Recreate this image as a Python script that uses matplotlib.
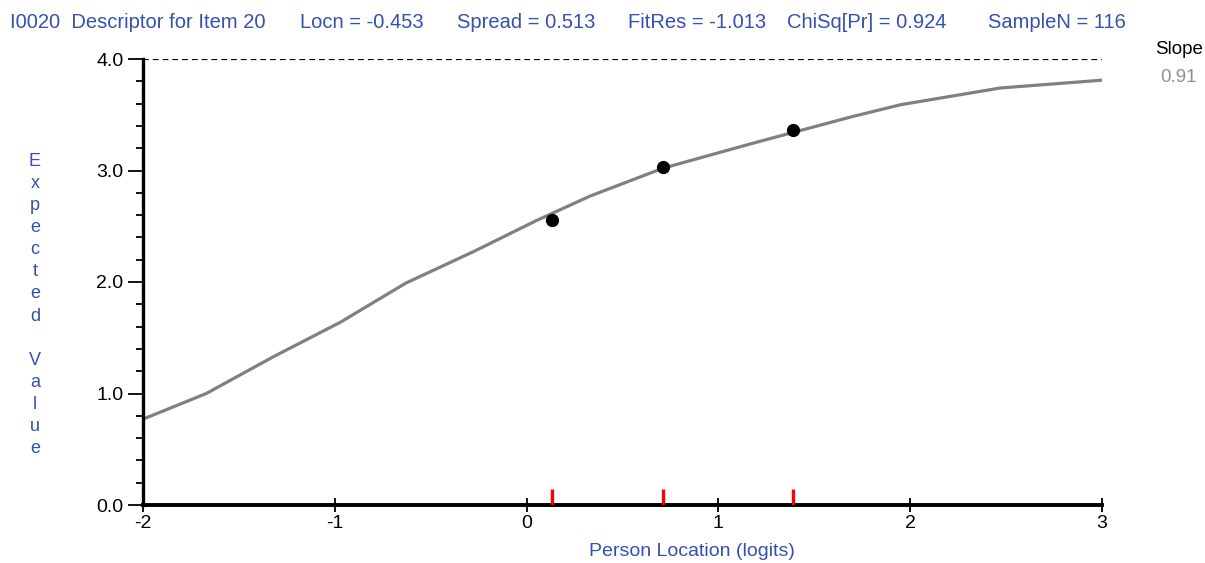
import matplotlib.pyplot as plt
import numpy as np
from matplotlib.ticker import MultipleLocator, FixedLocator

plt.rcParams["font.family"] = ["Liberation Sans Narrow", "Liberation Sans", "DejaVu Sans"]

BLUE = "#3550b0"

# expected value curve
curve_x = [-2.0, -1.67, -1.32, -0.97, -0.63, -0.28, 0.05, 0.33, 0.71, 1.17, 1.43, 1.69, 1.95, 2.47, 3.0]
curve_y = [0.77, 1.00, 1.33, 1.64, 1.99, 2.27, 2.55, 2.77, 3.02, 3.24, 3.36, 3.48, 3.59, 3.74, 3.81]

# observed class means
obs_x = [0.13, 0.71, 1.39]
obs_y = [2.56, 3.03, 3.36]

max_score = 4.0
header = [
    ("I0020  Descriptor for Item 20", 10),
    ("Locn = -0.453", 300),
    ("Spread = 0.513", 457),
    ("FitRes = -1.013", 628),
    ("ChiSq[Pr] = 0.924", 787),
    ("SampleN = 116", 988),
]
slope = "0.91"

fig = plt.figure(figsize=(12.05, 5.63), dpi=100)
ax = fig.add_axes([143 / 1205, 1 - 505 / 563, (1102 - 143) / 1205, (505 - 59) / 563])

ax.plot(curve_x, curve_y, color="#808080", lw=2.3, zorder=2)
ax.plot(obs_x, obs_y, "o", color="black", ms=8.5, zorder=3)
ax.axhline(max_score, color="black", lw=1.6, ls=(0, (2.6, 1.8)), zorder=1)
# class interval markers on the x axis
ax.vlines(obs_x, 0, 0.036, color="red", lw=2.4, transform=ax.get_xaxis_transform(), zorder=4)

ax.set_xlim(-2, 3)
ax.set_ylim(0, max_score)
for s in ["top", "right"]:
    ax.spines[s].set_visible(False)
ax.spines["left"].set_linewidth(2.4)
ax.spines["bottom"].set_linewidth(2.8)

ax.xaxis.set_major_locator(FixedLocator([-2, -1, 0, 1, 2, 3]))
ax.set_xticklabels(["-2", "-1", "0", "1", "2", "3"])
ax.tick_params(axis="x", direction="inout", length=10, width=1.3, labelsize=14, pad=2)
ax.yaxis.set_major_locator(MultipleLocator(1.0))
ax.yaxis.set_minor_locator(MultipleLocator(0.2))
ax.yaxis.set_major_formatter(lambda v, p: f"{v:.1f}")
ax.tick_params(axis="y", which="major", direction="out", length=11, width=1.3, labelsize=14, pad=3)
ax.tick_params(axis="y", which="minor", direction="out", length=5, width=1.3)

ax.set_xlabel("Person Location (logits)", color=BLUE, fontsize=14, labelpad=8)
ax.xaxis.set_label_coords((692 - 143) / 959, -0.085)
fig.text(35 / 1205, 1 - 305 / 563, "\n".join("Expected Value"), color=BLUE, fontsize=13,
         ha="center", va="center", linespacing=1.39)

for txt, xp in header:
    fig.text(xp / 1205, 1 - 22 / 563, txt, color=BLUE, fontsize=14.5, ha="left", va="center")

fig.text(1203 / 1205, 1 - 50 / 563, "Slope", color="black", fontsize=13.5, ha="right", va="center")
fig.text(1197 / 1205, 1 - 78 / 563, slope, color="#909090", fontsize=13.5, ha="right", va="center")

fig.savefig("out.png", dpi=100)
